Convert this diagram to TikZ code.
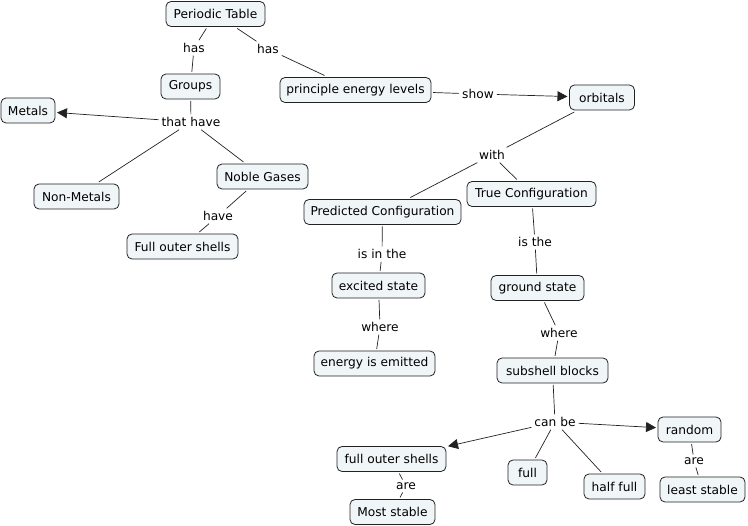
\documentclass[tikz,border=0pt]{standalone}
\usepackage{fontspec}
\setmainfont{DejaVu Sans}
\usetikzlibrary{arrows.meta}
\definecolor{boxfill}{RGB}{240,245,247}
\definecolor{boxline}{RGB}{34,34,34}
\tikzset{
  concept/.style={draw=boxline, fill=boxfill, rounded corners=5pt, line width=0.8pt,
    minimum height=25pt, inner sep=0pt, outer sep=2pt, font=\fontsize{12.2}{14}\selectfont},
  linkw/.style={inner sep=2pt, outer sep=1pt, font=\fontsize{12.2}{14}\selectfont},
  conn/.style={draw=boxline, line width=0.7pt},
  arr/.style={conn, -{Triangle[length=10pt,width=10pt]}}
}
\begin{document}
\begin{tikzpicture}[x=1pt,y=-1pt]
\useasboundingbox (0,0) rectangle (748,526);
% concepts
\node[concept, minimum width=99pt] (pt) at (215.5,14) {Periodic Table};
\node[concept, minimum width=59pt] (gr) at (190.5,86.5) {Groups};
\node[concept, minimum width=151pt] (pel) at (355.5,90) {principle energy levels};
\node[concept, minimum width=65pt] (orb) at (602,97.5) {orbitals};
\node[concept, minimum width=54pt] (met) at (28,110.5) {Metals};
\node[concept, minimum width=85pt] (nm) at (76.5,196.5) {Non-Metals};
\node[concept, minimum width=91pt] (ng) at (262.5,176.5) {Noble Gases};
\node[concept, minimum width=111pt] (fos1) at (182.5,246.5) {Full outer shells};
\node[concept, minimum width=157pt] (pc) at (382.5,212) {Predicted Configuration};
\node[concept, minimum width=129pt] (tc) at (531.5,194) {True Configuration};
\node[concept, minimum width=93pt] (es) at (378.5,285.5) {excited state};
\node[concept, minimum width=93pt] (gs) at (537.5,288) {ground state};
\node[concept, minimum width=121pt] (eie) at (374.5,363.5) {energy is emitted};
\node[concept, minimum width=111pt] (sb) at (552.5,370.5) {subshell blocks};
\node[concept, minimum width=63pt] (rnd) at (689.5,429.5) {random};
\node[concept, minimum width=109pt] (fos2) at (391.5,459) {full outer shells};
\node[concept, minimum width=39pt] (full) at (527.5,472.5) {full};
\node[concept, minimum width=61pt] (hf) at (614.5,486.5) {half full};
\node[concept, minimum width=85pt] (ls) at (702.5,489.5) {least stable};
\node[concept, minimum width=85pt] (ms) at (392.5,512) {Most stable};
% linking words
\node[linkw] (l1) at (194,48) {has};
\node[linkw] (l2) at (268,49) {has};
\node[linkw] (l3) at (191,122) {that have};
\node[linkw] (l4) at (218,216) {have};
\node[linkw] (l5) at (478,94) {show};
\node[linkw] (l6) at (492,155) {with};
\node[linkw] (l7) at (382,254) {is in the};
\node[linkw] (l8) at (535,242) {is the};
\node[linkw] (l9) at (380,327) {where};
\node[linkw] (l10) at (559,333) {where};
\node[linkw] (l11) at (555,422) {can be};
\node[linkw] (l12) at (406,486) {are};
\node[linkw] (l13) at (694,461) {are};
% connectors
\draw[conn] (pt) -- (l1); \draw[conn] (l1) -- (gr);
\draw[conn] (pt) -- (l2); \draw[conn] (l2) -- (pel);
\draw[conn] (gr) -- (l3);
\draw[arr] (l3) -- (met);
\draw[conn] (l3) -- (nm);
\draw[conn] (l3) -- (ng);
\draw[conn] (ng) -- (l4); \draw[conn] (l4) -- (fos1);
\draw[conn] (pel) -- (l5); \draw[arr] (l5) -- (orb);
\draw[conn] (orb) -- (l6);
\draw[conn] (l6) -- (pc);
\draw[conn] (l6) -- (tc);
\draw[conn] (pc) -- (l7); \draw[conn] (l7) -- (es);
\draw[conn] (es) -- (l9); \draw[conn] (l9) -- (eie);
\draw[conn] (tc) -- (l8); \draw[conn] (l8) -- (gs);
\draw[conn] (gs) -- (l10); \draw[conn] (l10) -- (sb);
\draw[conn] (sb) -- (l11);
\draw[arr] (l11) -- (fos2);
\draw[conn] (l11) -- (full);
\draw[conn] (l11) -- (hf);
\draw[arr] (l11) -- (rnd);
\draw[conn] (fos2) -- (l12); \draw[conn] (l12) -- (ms);
\draw[conn] (rnd) -- (l13); \draw[conn] (l13) -- (ls);
\end{tikzpicture}
\end{document}
